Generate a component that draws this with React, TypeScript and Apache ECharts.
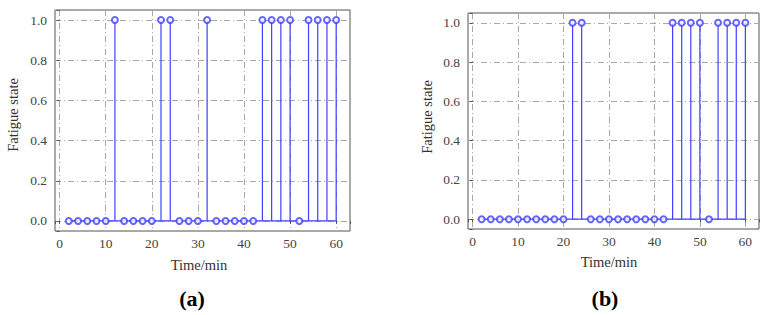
import React, { useEffect, useRef } from "react";
import * as echarts from "echarts";

const times = [2, 4, 6, 8, 10, 12, 14, 16, 18, 20, 22, 24, 26, 28, 30, 32, 34, 36, 38, 40, 42, 44, 46, 48, 50, 52, 54, 56, 58, 60];
const stateA = [0, 0, 0, 0, 0, 1, 0, 0, 0, 0, 1, 1, 0, 0, 0, 1, 0, 0, 0, 0, 0, 1, 1, 1, 1, 0, 1, 1, 1, 1];
const stateB = [0, 0, 0, 0, 0, 0, 0, 0, 0, 0, 1, 1, 0, 0, 0, 0, 0, 0, 0, 0, 0, 1, 1, 1, 1, 0, 1, 1, 1, 1];
const panelLabels = ["(a)", "(b)"];
const xName = "Time/min";
const yName = "Fatigue state";

const BLUE = "#4040ff";
const FONT = "Liberation Serif";

export default function App() {
  const ref = useRef<HTMLDivElement>(null);
  useEffect(() => {
    document.body.style.margin = "0";
    const chart = echarts.init(ref.current!, null, { renderer: "svg" });
    const grids = [
      { left: 55, top: 10, width: 295, height: 221, show: true, borderColor: "#555", borderWidth: 1, backgroundColor: "#fff" },
      { left: 468, top: 13, width: 291, height: 216, show: true, borderColor: "#555", borderWidth: 1, backgroundColor: "#fff" },
    ];
    const splitLine = { show: true, lineStyle: { color: "#a8a8a8", type: [6, 3, 1, 3], width: 1 } };
    const xAxes = grids.map((_, i) => ({
      type: "value",
      gridIndex: i,
      min: -1,
      max: 63,
      splitNumber: 6,
      axisLine: { show: false },
      axisTick: { show: true, inside: false, length: 3, lineStyle: { color: "#555" } },
      axisLabel: {
        color: "#444",
        fontFamily: FONT,
        fontSize: 13.5,
        margin: 5,
        formatter: (v: number) => (Math.abs(v % 10) < 1e-9 ? String(v) : ""),
      },
      splitLine,
    }));
    const yAxes = grids.map((_, i) => ({
      type: "value",
      gridIndex: i,
      min: -0.05,
      max: 1.05,
      splitNumber: 5,
      axisLine: { show: false },
      axisTick: { show: true, inside: false, length: 3, lineStyle: { color: "#555" } },
      axisLabel: {
        color: "#444",
        fontFamily: FONT,
        fontSize: 13.5,
        margin: 8,
        formatter: (v: number) => (Math.abs(v * 5 - Math.round(v * 5)) < 1e-6 ? v.toFixed(1) : ""),
      },
      splitLine,
    }));
    const datasets = [stateA, stateB];
    const series: any[] = [];
    datasets.forEach((vals, i) => {
      const pts = times.map((t, k) => [t, vals[k]]);
      series.push({
        type: "line",
        xAxisIndex: i,
        yAxisIndex: i,
        data: [[times[0], 0], [times[times.length - 1], 0]],
        showSymbol: false,
        symbol: "none",
        lineStyle: { color: BLUE, width: 1.2 },
        z: 3,
      });
      series.push({
        type: "custom",
        xAxisIndex: i,
        yAxisIndex: i,
        data: pts,
        renderItem: (params: any, api: any) => {
          const x = api.value(0);
          const y = api.value(1);
          const p0 = api.coord([x, 0]);
          const p1 = api.coord([x, y]);
          return {
            type: "line",
            shape: { x1: p0[0], y1: p0[1], x2: p1[0], y2: p1[1] },
            style: { stroke: BLUE, lineWidth: 1.2 },
          };
        },
        z: 3,
      });
      series.push({
        type: "scatter",
        xAxisIndex: i,
        yAxisIndex: i,
        data: pts,
        symbol: "emptyCircle",
        symbolSize: 6,
        itemStyle: { color: BLUE, borderColor: BLUE, borderWidth: 1.4 },
        z: 4,
      });
    });
    const txt = (x: number, y: number, text: string, size: number, bold: boolean, rot = 0) => ({
      type: "text",
      x,
      y,
      rotation: rot,
      style: {
        text,
        fontFamily: FONT,
        fontSize: size,
        fontWeight: bold ? "bold" : "normal",
        fill: bold ? "#000" : "#333",
        align: "center",
        verticalAlign: "middle",
      },
    });
    const graphic: any[] = [
      txt(13, 115, yName, 14.5, false, Math.PI / 2),
      txt(199, 265, xName, 14.5, false),
      txt(192, 298, panelLabels[0], 22, true),
      txt(427, 117, yName, 14.5, false, Math.PI / 2),
      txt(609, 262, xName, 14.5, false),
      txt(605, 298, panelLabels[1], 22, true),
    ];
    chart.setOption({
      animation: false,
      backgroundColor: "#fff",
      grid: grids,
      xAxis: xAxes,
      yAxis: yAxes,
      series,
      graphic,
    });
    return () => chart.dispose();
  }, []);
  return <div ref={ref} style={{ width: 766, height: 315 }} />;
}
